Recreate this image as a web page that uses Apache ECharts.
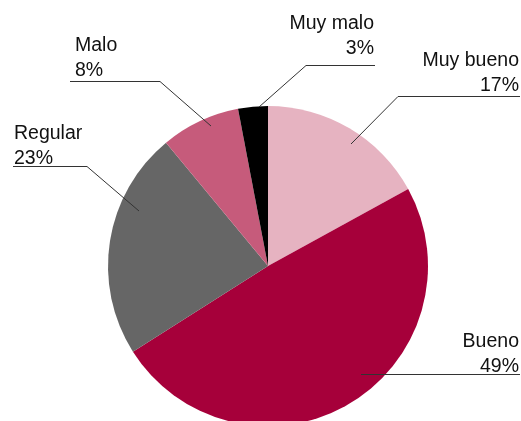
<!DOCTYPE html>
<html>
<head>
<meta charset="utf-8">
<script src="https://cdn.jsdelivr.net/npm/echarts@6/dist/echarts.min.js"></script>
<style>html,body{margin:0;padding:0;background:#fff}#c{width:521px;height:421px}</style>
</head>
<body>
<div id="c"></div>
<script>
const categories = ['Muy bueno', 'Bueno', 'Regular', 'Malo', 'Muy malo'];
const values = [17, 49, 23, 8, 3];
const colors = ['#e6b3c1', '#a6003a', '#666666', '#c65b7b', '#000000'];

// label layout (annotation placement): text anchor and leader-line points
const labelPlacement = {
  'Muy bueno': { x: 519, y: 48, align: 'right', line: [[351, 144], [398, 96.5], [520, 96.5]] },
  'Bueno':     { x: 519, y: 329, align: 'right', line: [[361, 374.5], [361, 374.5], [520, 374.5]] },
  'Regular':   { x: 14, y: 121, align: 'left', line: [[139, 211], [87, 166.5], [13, 166.5]] },
  'Malo':      { x: 75, y: 33, align: 'left', line: [[211, 126], [160, 81.5], [70, 81.5]] },
  'Muy malo':  { x: 374, y: 11, align: 'right', line: [[259, 107], [306, 65.5], [375, 65.5]] }
};

const pieData = categories.map((n, i) => ({ name: n, value: values[i], itemStyle: { color: colors[i] } }));
const overlayData = categories.map((n, i) => ({ name: n, value: values[i], itemStyle: { color: 'rgba(0,0,0,0)' } }));

const common = {
  type: 'pie',
  center: [268, 266],
  radius: 160,
  startAngle: 90,
  clockwise: true,
  silent: true
};

const chart = echarts.init(document.getElementById('c'));
chart.setOption({
  animation: false,
  series: [
    Object.assign({}, common, {
      z: 2,
      data: pieData,
      itemStyle: { borderWidth: 0 },
      label: { show: false },
      labelLine: { show: false }
    }),
    Object.assign({}, common, {
      z: 5,
      data: overlayData,
      itemStyle: { borderWidth: 0 },
      label: {
        show: true,
        formatter: '{b}\n{c}%',
        fontFamily: 'Liberation Sans',
        fontSize: 19.5,
        lineHeight: 25,
        color: '#111',
        overflow: 'none'
      },
      labelLine: {
        show: true,
        lineStyle: { color: '#333', width: 1, opacity: 1 }
      },
      labelLayout: function (params) {
        const p = labelPlacement[categories[params.dataIndex]];
        return {
          x: p.x,
          y: p.y,
          align: p.align,
          verticalAlign: 'top',
          labelLinePoints: p.line
        };
      }
    })
  ]
});
</script>
</body>
</html>
